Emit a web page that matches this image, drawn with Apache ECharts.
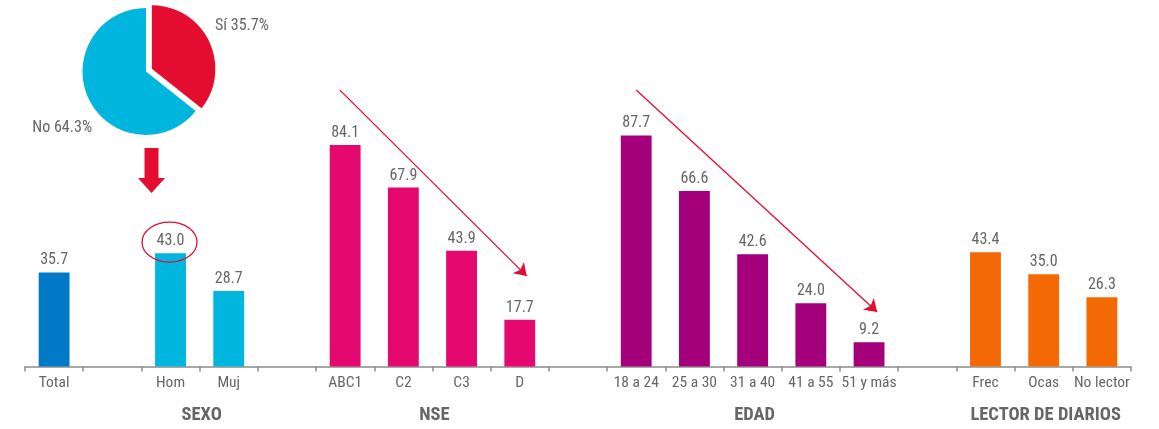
<!DOCTYPE html>
<html><head><meta charset="utf-8">
<script src="https://cdn.jsdelivr.net/npm/echarts@6/dist/echarts.min.js"></script>
<style>html,body{margin:0;padding:0;background:#fff}#c{width:1159px;height:429px}</style>
</head><body><div id="c"></div>
<script>
// ---- data ----
const categories = ['Total', '', 'Hom', 'Muj', ' ', 'ABC1', 'C2', 'C3', 'D', '  ',
  '18 a 24', '25 a 30', '31 a 40', '41 a 55', '51 y más', '   ', 'Frec', 'Ocas', 'No lector'];
const values = [35.7, null, 43.0, 28.7, null, 84.1, 67.9, 43.9, 17.7, null,
  87.7, 66.6, 42.6, 24.0, 9.2, null, 43.4, 35.0, 26.3];
const barColors = ['#0079c7', null, '#00b6de', '#00b6de', null, '#e5096f', '#e5096f', '#e5096f', '#e5096f', null,
  '#a4007c', '#a4007c', '#a4007c', '#a4007c', '#a4007c', null, '#f36a04', '#f36a04', '#f36a04'];
const groups = [
  { name: 'SEXO', from: 2, to: 3 },
  { name: 'NSE', from: 5, to: 8 },
  { name: 'EDAD', from: 10, to: 14 },
  { name: 'LECTOR DE DIARIOS', from: 16, to: 18 }
];
const pieNames = ['Sí', 'No'];
const pieValues = [35.7, 64.3];
const pieColors = ['#e40c2f', '#00b6de'];
// trend arrows in (category index, value) units
const trendArrows = [
  [[4.91, 104.9], [8.12, 34.3]],
  [[10.0, 104.9], [14.14, 20.7]]
];
const highlightIndex = 2;

const FONT = '"Roboto Condensed", "Open Sans", sans-serif';
const GREY = '#666666';
const RED = '#e40c2f';
const PIE_CENTER = [146, 71.5];
const PIE_R = 63.5;

const chart = echarts.init(document.getElementById('c'), null, { renderer: 'canvas' });

chart.setOption({
  animation: false,
  grid: { left: 25, right: 28, top: 76.65, bottom: 62.5, containLabel: false },
  xAxis: [{
    type: 'category', data: categories, boundaryGap: true,
    axisLine: { lineStyle: { color: '#8c8c8c', width: 1.5 } },
    axisTick: { show: true, length: 5, lineStyle: { color: '#8c8c8c', width: 1.5 } },
    axisLabel: { color: GREY, fontFamily: FONT, fontSize: 15.5, margin: 9, interval: 0 }
  }, {
    type: 'value', min: -0.5, max: 18.5, show: false
  }],
  yAxis: { type: 'value', min: 0, max: 110, show: false, splitLine: { show: false } },
  series: [{
    type: 'bar', xAxisIndex: 0, barWidth: '53%',
    data: values.map((v, i) => v == null ? '-' : { value: v, itemStyle: { color: barColors[i] } }),
    label: {
      show: true, position: 'top', distance: 4, color: GREY, fontFamily: FONT, fontSize: 16,
      formatter: p => p.value.toFixed(1)
    },
    emphasis: { disabled: true }
  }, {
    type: 'lines', coordinateSystem: 'cartesian2d', xAxisIndex: 1, yAxisIndex: 0,
    symbol: ['none', 'arrow'], symbolSize: 12,
    lineStyle: { color: RED, width: 1.3, opacity: 1, curveness: 0 },
    data: trendArrows.map(a => ({ coords: a })),
    silent: true
  }, {
    type: 'pie', center: PIE_CENTER, radius: PIE_R, startAngle: 90, clockwise: true,
    selectedMode: 'single', selectedOffset: 6.5,
    data: pieNames.map((n, i) => ({ name: n, value: pieValues[i], selected: i === 0, itemStyle: { color: pieColors[i] } })),
    label: { show: false },
    labelLine: { show: false },
    emphasis: { disabled: true }, silent: true
  }]
});

// annotations anchored to the axes / pie
const graphics = [];
groups.forEach(g => {
  const x1 = chart.convertToPixel({ xAxisIndex: 1 }, g.from);
  const x2 = chart.convertToPixel({ xAxisIndex: 1 }, g.to);
  graphics.push({
    type: 'text', x: (x1 + x2) / 2 + 2, y: 415,
    style: { text: g.name, fill: GREY, font: 'bold 18.5px ' + FONT, textAlign: 'center', textVerticalAlign: 'middle' }
  });
});
// pie labels
const pieLabelPos = [
  { x: PIE_CENTER[0] + 69, y: PIE_CENTER[1] - 46, align: 'left' },
  { x: PIE_CENTER[0] - 54, y: PIE_CENTER[1] + 56, align: 'right' }
];
pieNames.forEach((n, i) => {
  graphics.push({
    type: 'text', x: pieLabelPos[i].x, y: pieLabelPos[i].y,
    style: { text: n + ' ' + pieValues[i].toFixed(1) + '%', fill: GREY, font: '16px ' + FONT,
      textAlign: pieLabelPos[i].align, textVerticalAlign: 'middle' }
  });
});
const hp = chart.convertToPixel({ xAxisIndex: 0, yAxisIndex: 0 }, [highlightIndex, values[highlightIndex]]);
graphics.push({
  type: 'ellipse', shape: { cx: hp[0] - 1, cy: hp[1] - 11, rx: 27.5, ry: 20 },
  style: { fill: 'none', stroke: RED, lineWidth: 1.3 }, z: 10
});
const ax = hp[0] - 19;
graphics.push({
  type: 'polygon',
  shape: { points: [[ax - 7, 148], [ax + 7, 148], [ax + 7, 178], [ax + 13.5, 178], [ax, 193], [ax - 13.5, 178], [ax - 7, 178]] },
  style: { fill: RED }
});
chart.setOption({ graphic: graphics });
</script></body></html>
